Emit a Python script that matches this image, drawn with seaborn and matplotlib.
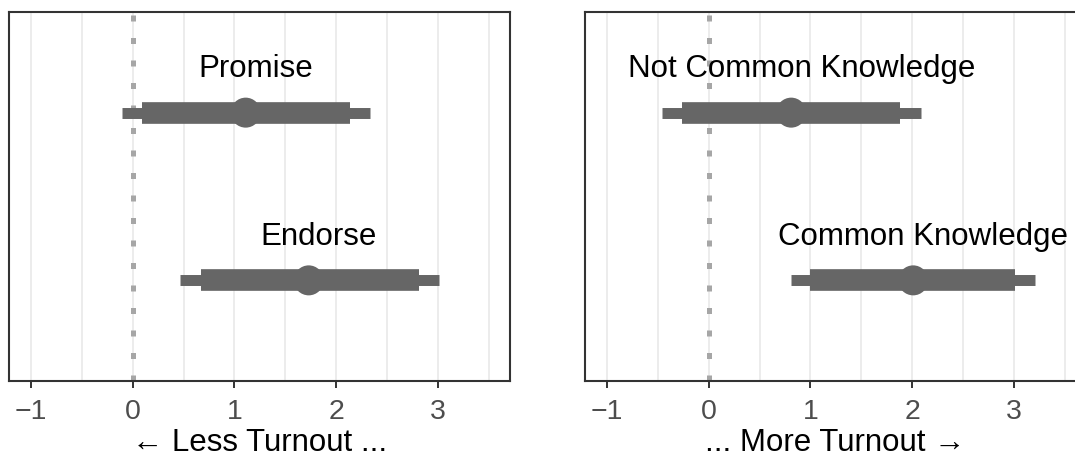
import matplotlib
matplotlib.use("Agg")
import matplotlib.pyplot as plt
import seaborn as sns
import pandas as pd
import numpy as np

# ---- data ----
left_terms = ["Promise", "Endorse"]
left_est = [1.11, 1.73]
left_lo95 = [-0.11, 0.46]
left_hi95 = [2.33, 3.01]
left_lo90 = [0.09, 0.67]
left_hi90 = [2.14, 2.81]

right_terms = ["Not Common Knowledge", "Common Knowledge"]
right_est = [0.81, 2.01]
right_lo95 = [-0.46, 0.81]
right_hi95 = [2.09, 3.21]
right_lo90 = [-0.26, 1.00]
right_hi90 = [1.88, 3.01]

x_ticks = [-1, 0, 1, 2, 3]
x_labels = ["\u22121", "0", "1", "2", "3"]
x_titles = ["\u2190 Less Turnout ...", "... More Turnout \u2192"]

sns.set_theme(style="white")
plt.rcParams['font.family'] = ['Liberation Sans', 'DejaVu Sans']

fig = plt.figure(figsize=(10.75, 4.57), dpi=100)
W, H = 1075, 457
ax_h = (381 - 12) / H
ax_w = 501 / W
axes = [fig.add_axes([9 / W, (H - 381) / H, ax_w, ax_h]),
        fig.add_axes([585 / W, (H - 381) / H, ax_w, ax_h])]

bar_col = "#666666"
panels = [
    (left_terms, left_est, left_lo95, left_hi95, left_lo90, left_hi90),
    (right_terms, right_est, right_lo95, right_hi95, right_lo90, right_hi90),
]

for ax, (terms, est, lo95, hi95, lo90, hi90), xt in zip(axes, panels, x_titles):
    df = pd.DataFrame({"term": terms, "est": est, "lo95": lo95, "hi95": hi95,
                       "lo90": lo90, "hi90": hi90})
    df["y"] = np.arange(len(df))[::-1] + 1  # first term on top
    # grid
    for g in np.arange(-1, 4.0, 0.5):
        ax.axvline(g, color="#EBEBEB", lw=1.3, zorder=0)
    ax.axvline(0, color="#A6A6A6", lw=3.6, linestyle=(0, (1.2, 3.3)),
               dash_capstyle="butt", zorder=1)
    ax.hlines(df["y"], df["lo95"], df["hi95"], color=bar_col, lw=7.9, zorder=2)
    ax.hlines(df["y"], df["lo90"], df["hi90"], color=bar_col, lw=15.6, zorder=3)
    sns.scatterplot(data=df, x="est", y="y", ax=ax, color=bar_col, s=21.6 ** 2,
                    edgecolor="none", zorder=4, legend=False)
    for _, r in df.iterrows():
        ax.text(r["est"] + 0.1, r["y"] + 0.26, r["term"], ha="center", va="center",
                fontsize=22.5, color="black", zorder=5)
    ax.set_xlim(-1.218, 3.71)
    ax.set_ylim(0.4, 2.6)
    ax.set_yticks([])
    ax.set_xticks(x_ticks)
    ax.set_xticklabels(x_labels)
    ax.tick_params(axis="x", length=5, width=1.4, color="#333333", pad=8,
                   labelsize=20.5, labelcolor="#4D4D4D", bottom=True)
    ax.set_xlabel(xt, fontsize=22.5, color="black", labelpad=2)
    ax.set_ylabel("")
    for s in ax.spines.values():
        s.set_visible(True)
        s.set_color("#333333")
        s.set_linewidth(1.5)

fig.savefig("out.png", dpi=100, facecolor="white")
